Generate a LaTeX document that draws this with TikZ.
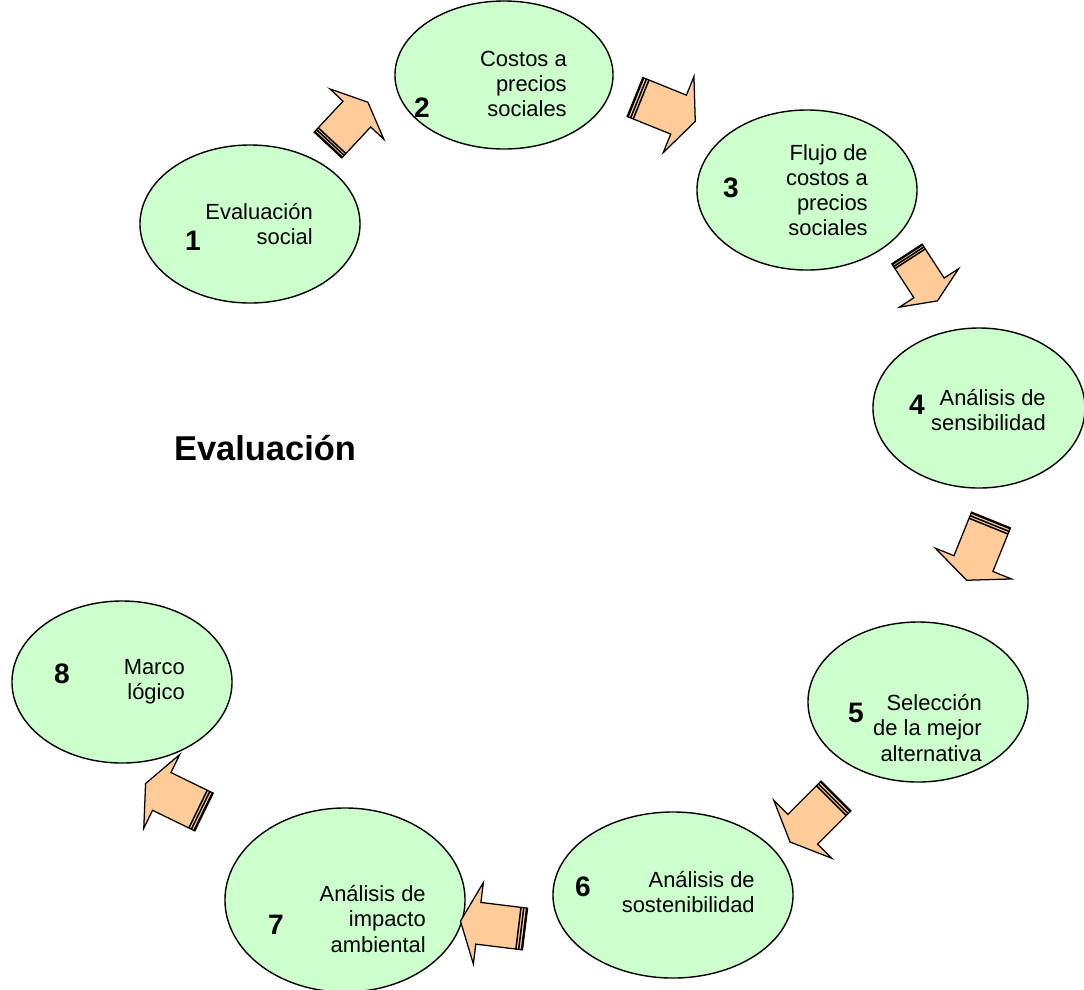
\documentclass[tikz,border=0pt]{standalone}
\usepackage{fontspec}
\setmainfont{Liberation Sans}
\usetikzlibrary{shapes.geometric}

\definecolor{stepgreen}{HTML}{CCFFCC}
\definecolor{arrowpeach}{HTML}{FFCC99}

\tikzset{
  stage/.style={ellipse, draw=black, fill=stepgreen, line width=1pt, inner sep=0pt},
  stagetext/.style={align=right, inner sep=0pt, anchor=east, font=\fontsize{15.6}{17.8}\selectfont},
  stagenum/.style={inner sep=0pt, font=\fontsize{20}{24}\selectfont\bfseries}
}

% block arrow with stripes at its tail: x, y, angle, scale
\newcommand{\stripearrow}[4]{
  \begin{scope}[shift={(#1,#2)}, rotate=#3, scale=#4]
    \filldraw[fill=arrowpeach, draw=black, line width=0.9pt, line join=miter]
      (0,-21) -- (47,-21) -- (47,-41) -- (65,0) -- (47,41) -- (47,21) -- (0,21) -- cycle;
    \draw[line width=1.4pt] (0.7,-21) -- (0.7,21);
    \draw[line width=1.1pt] (3.8,-21) -- (3.8,21);
    \draw[line width=1.1pt] (6.6,-21) -- (6.6,21);
  \end{scope}
}

\begin{document}
\begin{tikzpicture}[x=0.025cm, y=-0.025cm]
    \useasboundingbox (0,0) rectangle (1084,989);
    \clip (0,0) rectangle (1084,989);

    % ellipses
    \node[stage, minimum width=5.5cm, minimum height=3.95cm] (e1) at (250,224) {};
    \node[stage, minimum width=5.45cm, minimum height=3.7cm] (e2) at (504,75) {};
    \node[stage, minimum width=5.5cm, minimum height=4cm] (e3) at (807,190) {};
    \node[stage, minimum width=5.3cm, minimum height=4cm] (e4) at (979,408) {};
    \node[stage, minimum width=5.5cm, minimum height=4cm] (e5) at (918,702) {};
    \node[stage, minimum width=6cm, minimum height=4.15cm] (e6) at (673,895) {};
    \node[stage, minimum width=6cm, minimum height=4.6cm] (e7) at (345,900) {};
    \node[stage, minimum width=5.5cm, minimum height=4.05cm] (e8) at (122,682) {};

    % texts
    \node[stagetext] (t1) at (313,224) {Evaluación\\social};
    \node[stagetext] (t2) at (567,84) {Costos a\\precios\\sociales};
    \node[stagetext] (t3) at (868,190) {Flujo de\\costos a\\precios\\sociales};
    \node[stagetext] (t4) at (1046,410) {Análisis de\\sensibilidad};
    \node[stagetext] (t5) at (982,728) {Selección\\de la mejor\\alternativa};
    \node[stagetext] (t6) at (755,892) {Análisis de\\sostenibilidad};
    \node[stagetext] (t7) at (426,919) {Análisis de\\impacto\\ambiental};
    \node[stagetext] (t8) at (185,682) {Marco\\lógico};

    % numbers
    \node[stagenum] (n1) at (193,241) {1};
    \node[stagenum] (n2) at (422,108) {2};
    \node[stagenum] (n3) at (731,188) {3};
    \node[stagenum] (n4) at (917,405) {4};
    \node[stagenum] (n5) at (856,713) {5};
    \node[stagenum] (n6) at (583,887) {6};
    \node[stagenum] (n7) at (276,925) {7};
    \node[stagenum] (n8) at (62,674) {8};

    % title
    \node[font=\fontsize{24.5}{28}\selectfont\bfseries, inner sep=0pt] (title) at (265,448) {Evaluación};

    % arrows
    \stripearrow{328}{145}{47}{0.9}
    \stripearrow{635}{97}{-22}{1}
    \stripearrow{907}{254}{-57}{0.86}
    \stripearrow{991}{520}{-112}{1}
    \stripearrow{836}{796}{-135}{1}
    \stripearrow{525}{929}{173}{1}
    \stripearrow{204}{812}{154}{1}
\end{tikzpicture}
\end{document}
